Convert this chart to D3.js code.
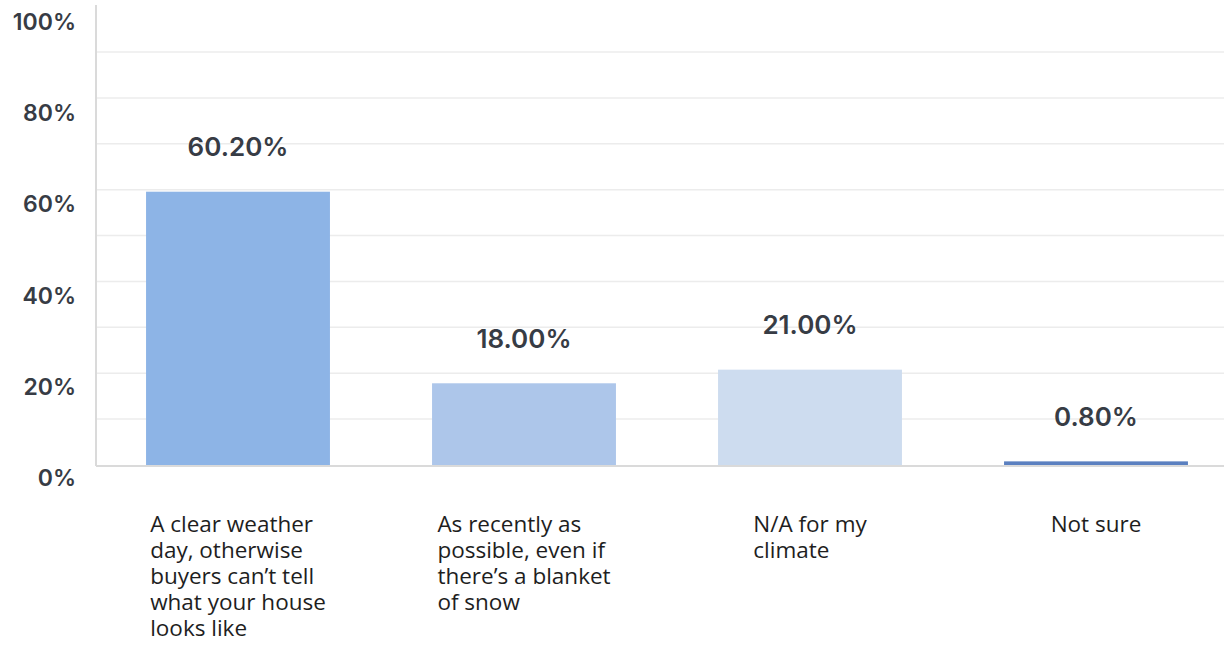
<!DOCTYPE html>
<html>
<head>
<meta charset="utf-8">
<script src="https://cdn.jsdelivr.net/npm/d3@7"></script>
<style>
  html, body { margin: 0; padding: 0; background: #ffffff; }
  svg { display: block; }
</style>
</head>
<body>
<svg id="chart" width="1224" height="648"></svg>
<script>
// Survey answers (category text is wrapped into lines as shown under each bar)
const categories = [
  "A clear weather day, otherwise buyers can’t tell what your house looks like",
  "As recently as possible, even if there’s a blanket of snow",
  "N/A for my climate",
  "Not sure"
];
const categoryLines = [
  ["A clear weather", "day, otherwise", "buyers can’t tell", "what your house", "looks like"],
  ["As recently as", "possible, even if", "there’s a blanket", "of snow"],
  ["N/A for my", "climate"],
  ["Not sure"]
];
const values = [60.2, 18.0, 21.0, 0.8];
const yTickValues = [0, 20, 40, 60, 80, 100];
const yTickLabels = ["0%", "20%", "40%", "60%", "80%", "100%"];
const gridSteps = [1, 2, 3, 4, 5, 6, 7, 8, 9];
const barColors = ["#8db4e6", "#adc6ea", "#cddcef", "#5b80c0"];

const svg = d3.select("#chart");

const x = d3.scaleBand()
  .domain(d3.range(categories.length))
  .range([95, 1239])
  .paddingInner(0.357)
  .paddingOuter(0.1785);

const y = d3.scaleLinear().domain([0, 100]).range([465, 11]);
const gridY = d3.scaleLinear().domain([0, 9]).range([465, 52]);
const labelY = d3.scaleLinear().domain([0, 100]).range([477.5, 22]);

// horizontal grid lines
svg.append("g")
  .selectAll("line")
  .data(gridSteps)
  .join("line")
  .attr("x1", 96).attr("x2", 1224)
  .attr("y1", d => gridY(d)).attr("y2", d => gridY(d))
  .attr("stroke", "#ececec")
  .attr("stroke-width", 1.5);

// y tick labels
svg.append("g")
  .selectAll("text")
  .data(yTickValues)
  .join("text")
  .attr("x", 76)
  .attr("y", d => labelY(d))
  .attr("dy", "0.36em")
  .attr("text-anchor", "end")
  .attr("font-family", "Inter, 'Noto Sans', sans-serif")
  .attr("font-weight", 600)
  .attr("font-size", 23)
  .attr("fill", "#373c45")
  .text((d, i) => yTickLabels[i]);

// bars
svg.append("g")
  .selectAll("rect")
  .data(values)
  .join("rect")
  .attr("x", (d, i) => x(i))
  .attr("width", x.bandwidth())
  .attr("y", d => y(d))
  .attr("height", d => y(0) - y(d))
  .attr("fill", (d, i) => barColors[i]);

// axes lines
svg.append("line")
  .attr("x1", 96).attr("x2", 96).attr("y1", 5).attr("y2", 466)
  .attr("stroke", "#dadada").attr("stroke-width", 2);
svg.append("line")
  .attr("x1", 96).attr("x2", 1224).attr("y1", 466).attr("y2", 466)
  .attr("stroke", "#dadada").attr("stroke-width", 2);

// value labels above bars
const fmt = d3.format(".2f");
svg.append("g")
  .selectAll("text")
  .data(values)
  .join("text")
  .attr("x", (d, i) => x(i) + x.bandwidth() / 2)
  .attr("y", d => y(d) - 45)
  .attr("dy", "0.36em")
  .attr("text-anchor", "middle")
  .attr("font-family", "Inter, 'Noto Sans', sans-serif")
  .attr("font-weight", 600)
  .attr("font-size", 26)
  .attr("fill", "#373c45")
  .text(d => fmt(d) + "%");

// category labels: left-aligned lines, block centred under each bar
const catGroups = svg.append("g")
  .selectAll("text")
  .data(categoryLines)
  .join("text")
  .attr("font-family", "'Open Sans', 'Noto Sans', sans-serif")
  .attr("font-size", 22.5)
  .attr("fill", "#1e1e1e");

catGroups.each(function(lines, i) {
  const t = d3.select(this);
  t.selectAll("tspan")
    .data(lines)
    .join("tspan")
    .attr("x", 0)
    .attr("y", (d, j) => j * 26)
    .text(d => d);
  let maxW = 0;
  t.selectAll("tspan").each(function() {
    maxW = Math.max(maxW, this.getComputedTextLength());
  });
  const cx = x(i) + x.bandwidth() / 2;
  t.attr("transform", `translate(${cx - maxW / 2},532)`);
});
</script>
</body>
</html>
